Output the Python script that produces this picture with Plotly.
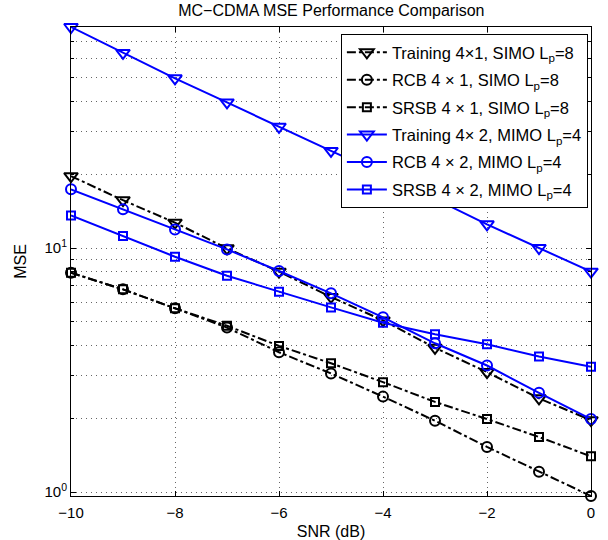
import plotly.graph_objects as go
import numpy as np

snr = [-10, -9, -8, -7, -6, -5, -4, -3, -2, -1, 0]

train_simo = [19.7, 15.7, 12.7, 9.97, 8.0, 6.3, 5.05, 3.9, 3.1, 2.42, 1.97]
rcb_simo = [7.92, 6.77, 5.66, 4.72, 3.74, 3.06, 2.46, 1.96, 1.53, 1.21, 0.963]
srsb_simo = [7.92, 6.77, 5.66, 4.8, 3.97, 3.37, 2.82, 2.34, 1.99, 1.68, 1.40]
train_mimo = [80.5, 63.0, 49.6, 39.5, 31.4, 25.0, 20.0, 15.9, 12.5, 10.0, 8.0]
rcb_mimo = [17.4, 14.4, 11.9, 9.87, 8.05, 6.52, 5.2, 4.07, 3.3, 2.55, 1.99]
srsb_mimo = [13.6, 11.2, 9.21, 7.70, 6.62, 5.71, 4.94, 4.43, 4.03, 3.59, 3.26]

names = [
    "Training 4×1, SIMO L<sub>p</sub>=8",
    "RCB 4 × 1, SIMO L<sub>p</sub>=8",
    "SRSB 4 × 1, SIMO L<sub>p</sub>=8",
    "Training 4× 2, MIMO L<sub>p</sub>=4",
    "RCB 4 × 2, MIMO L<sub>p</sub>=4",
    "SRSB 4 × 2, MIMO L<sub>p</sub>=4",
]
series = [train_simo, rcb_simo, srsb_simo, train_mimo, rcb_mimo, srsb_mimo]
colors = ["black", "black", "black", "blue", "blue", "blue"]
dashes = ["dashdot", "dashdot", "dashdot", "solid", "solid", "solid"]
symbols = ["triangle-down-open", "circle-open", "square-open"] * 2
sizes = [12, 10, 8, 12, 10, 8]

fig = go.Figure()
for i, (nm, ys, c, d, s, sz) in enumerate(zip(names, series, colors, dashes, symbols, sizes)):
    fig.add_trace(go.Scatter(
        x=snr, y=ys, name=nm, mode="lines+markers", legendgroup=f"g{i}",
        line=dict(color=c, width=2, dash=d),
        marker=dict(symbol=s, size=sz, color=c, line=dict(color=c, width=2)),
        cliponaxis=False,
    ))

ymin, ymax = 0.963, 80.5
minor_vals = [v * m for m in (1, 10) for v in range(2, 10)]
grid_dash = "1px,4px"
grid_col = "#666666"
FONT = "Liberation Sans, Arial, sans-serif"

fig.update_layout(
    width=608, height=540,
    margin=dict(l=71, r=17, t=27, b=44),
    paper_bgcolor="white", plot_bgcolor="white",
    font=dict(family=FONT, size=15, color="black"),
    title=dict(text="MC−CDMA MSE Performance Comparison", x=0.545, xanchor="center",
               y=0.981, yanchor="middle", font=dict(family=FONT, size=16, color="black")),
    legend=dict(x=0.994, xanchor="right", y=0.985, yanchor="top",
                bgcolor="white", bordercolor="black", borderwidth=1,
                font=dict(family=FONT, size=16.5, color="black"), itemwidth=40, tracegroupgap=3),
    showlegend=True,
)
fig.update_xaxes(
    range=[-10, 0], tickvals=[-10, -8, -6, -4, -2, 0],
    ticktext=["−10", "−8", "−6", "−4", "−2", "0"],
    tickfont=dict(family=FONT, size=15, color="black"),
    title=dict(text="SNR (dB)", standoff=6, font=dict(family=FONT, size=16, color="black")),
    automargin=False,
    showline=True, linecolor="black", linewidth=1, mirror="ticks",
    ticks="inside", ticklen=5, tickcolor="black", ticklabelstandoff=3,
    showgrid=True, gridcolor=grid_col, griddash=grid_dash, gridwidth=1,
    zeroline=False,
)
fig.update_yaxes(
    type="log", range=[np.log10(ymin), np.log10(ymax)],
    tickvals=[1, 10], ticktext=["10<sup>0</sup>", "10<sup>1</sup>"],
    tickfont=dict(family=FONT, size=15, color="black"),
    title=dict(text="MSE", standoff=13, font=dict(family=FONT, size=16, color="black")),
    automargin=False,
    showline=True, linecolor="black", linewidth=1, mirror="ticks",
    ticks="inside", ticklen=5, tickcolor="black",
    showgrid=True, gridcolor=grid_col, griddash=grid_dash, gridwidth=1,
    minor=dict(tickvals=minor_vals, ticks="inside", ticklen=3, tickcolor="black",
               showgrid=True, gridcolor=grid_col, griddash=grid_dash, gridwidth=1),
    zeroline=False,
)

fig.write_html("out.html", config={"displayModeBar": False},
               post_script="document.body.style.margin='0';document.body.style.padding='0';")
